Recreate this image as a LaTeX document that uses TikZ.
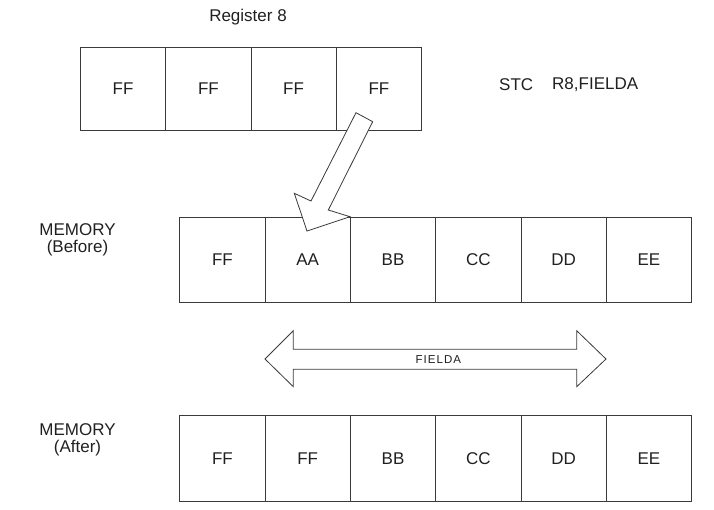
\documentclass[tikz,border=0pt]{standalone}
\usepackage{fontspec}
\setmainfont{Liberation Sans}
\definecolor{linegray}{HTML}{3A3A3A}
\definecolor{textgray}{HTML}{202020}
\begin{document}
\begin{tikzpicture}[x=1pt,y=-1pt,
  cell/.style={draw=linegray, line width=0.9pt, minimum width=85.3pt, minimum height=84pt, inner sep=0pt, anchor=north west, text=textgray, font=\fontsize{17}{20}\selectfont},
  lbl/.style={text=textgray, font=\fontsize{17}{20}\selectfont, inner sep=0pt, align=center},
  blockarrow/.style={draw=linegray, line width=0.8pt, fill=white, line join=miter}]
\useasboundingbox (0,0) rectangle (714,509);
% Register 8
\node[lbl] (reglbl) at (248,17) {Register 8};
\node[cell, minimum height=83.3pt] (r1) at (80,46.7) {FF};
\node[cell, minimum height=83.3pt] (r2) at (165.3,46.7) {FF};
\node[cell, minimum height=83.3pt] (r3) at (250.5,46.7) {FF};
\node[cell, minimum height=83.3pt] (r4) at (335.8,46.7) {FF};
\node[lbl, anchor=west] (stc) at (499,85) {STC};
\node[lbl, anchor=west] (instr) at (552,85) {R8,FIELDA};
% Memory before
\node[lbl] (membefore) at (77.5,240) {MEMORY\\[-3pt](Before)};
\node[cell, minimum height=85pt] (b1) at (179.3,216.7) {FF};
\node[cell, minimum height=85pt] (b2) at (264.6,216.7) {AA};
\node[cell, minimum height=85pt] (b3) at (349.9,216.7) {BB};
\node[cell, minimum height=85pt] (b4) at (435.2,216.7) {CC};
\node[cell, minimum height=85pt] (b5) at (520.5,216.7) {DD};
\node[cell, minimum height=85pt] (b6) at (605.8,216.7) {EE};
% Memory after
\node[lbl] (memafter) at (77.5,440) {MEMORY\\[-3pt](After)};
\node[cell, minimum height=85.7pt] (a1) at (179.3,415) {FF};
\node[cell, minimum height=85.7pt] (a2) at (264.6,415) {FF};
\node[cell, minimum height=85.7pt] (a3) at (349.9,415) {BB};
\node[cell, minimum height=85.7pt] (a4) at (435.2,415) {CC};
\node[cell, minimum height=85.7pt] (a5) at (520.5,415) {DD};
\node[cell, minimum height=85.7pt] (a6) at (605.8,415) {EE};
% Store arrow from register to memory
\coordinate (tip) at (307,231);
\draw[blockarrow] (356,112.7) -- (372.7,121.7) -- (328.3,210) -- (350,216.7)
  -- (tip) -- (294.3,193.3) -- (311,201) -- cycle;
% FIELDA double arrow
\draw[blockarrow] (265,359) -- (293.3,330.7) -- (293.3,349.3) -- (576.7,349.3)
  -- (576.7,330.7) -- (606,359) -- (576.7,386.7) -- (576.7,369.3)
  -- (293.3,369.3) -- (293.3,386.7) -- cycle;
\node[text=textgray, inner sep=0pt, font=\fontsize{11.5}{13}\selectfont\addfontfeatures{LetterSpace=9}] (fielda) at (438.3,359.3) {FIELDA};
\end{tikzpicture}
\end{document}
